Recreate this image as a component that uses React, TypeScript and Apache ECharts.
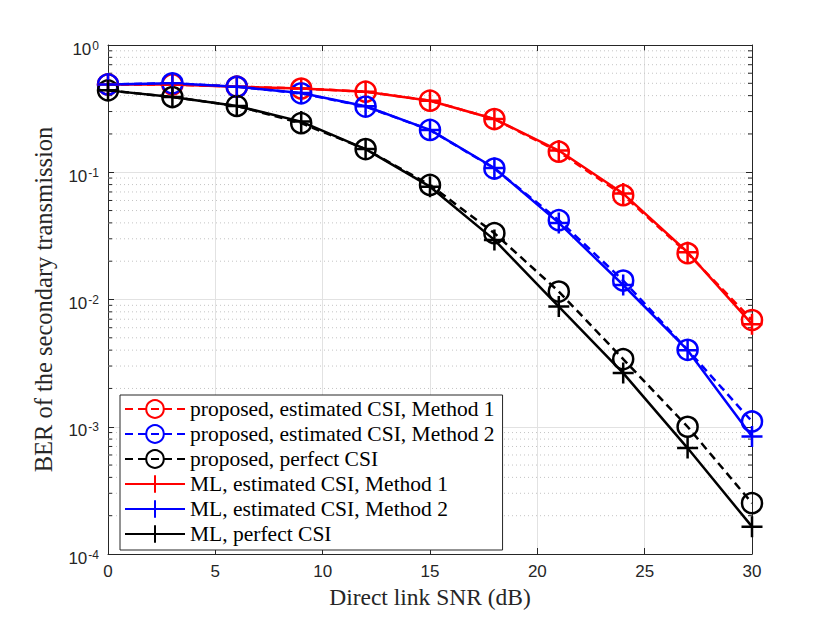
import React, { useEffect, useRef } from "react";
import * as echarts from "echarts";

const snr = [0, 3, 6, 9, 12, 15, 18, 21, 24, 27, 30];
const propRed = [0.49, 0.49, 0.47, 0.455, 0.43, 0.365, 0.262, 0.145, 0.066, 0.0231, 0.0069];
const propBlue = [0.49, 0.5, 0.47, 0.417, 0.328, 0.215, 0.107, 0.042, 0.0141, 0.00402, 0.0011];
const propBlack = [0.44, 0.39, 0.332, 0.243, 0.152, 0.0795, 0.0332, 0.01154, 0.0034, 0.001, 0.000251];
const mlRed = [0.49, 0.49, 0.47, 0.455, 0.43, 0.365, 0.262, 0.148, 0.068, 0.0235, 0.0064];
const mlBlue = [0.49, 0.5, 0.47, 0.42, 0.33, 0.215, 0.108, 0.04, 0.013, 0.004, 0.00084];
const mlBlack = [0.44, 0.39, 0.332, 0.25, 0.152, 0.077, 0.0294, 0.0088, 0.00264, 0.00068, 0.000164];

const names = [
  "proposed, estimated CSI, Method 1",
  "proposed, estimated CSI, Method 2",
  "proposed, perfect CSI",
  "ML, estimated CSI, Method 1",
  "ML, estimated CSI, Method 2",
  "ML, perfect CSI",
];
const yTickExponents = [-4, -3, -2, -1, 0];
const minorValues: number[] = [];
[1e-4, 1e-3, 1e-2, 1e-1].forEach((d) => {
  for (let k = 2; k <= 9; k++) minorValues.push(d * k);
});

const AXIS = "#262626";
const GRID = "#e2e2e2";
const SERIF = "'Liberation Serif', 'Times New Roman', serif";
const SANS = "'Liberation Sans', Arial, sans-serif";
const BASE_FONT = "17px 'Liberation Sans', Arial, sans-serif";
const SUP_FONT = "12px 'Liberation Sans', Arial, sans-serif";
const PLUS = "path://M10,0 L10,20 M0,10 L20,10";

let measureCtx: CanvasRenderingContext2D | null = null;
function textWidth(t: string, font: string) {
  if (!measureCtx) measureCtx = document.createElement("canvas").getContext("2d");
  if (!measureCtx) return t.length * 6.7;
  measureCtx.font = font;
  return measureCtx.measureText(t).width;
}

function mkSeries(name: string, vals: number[], color: string, proposed: boolean) {
  return {
    name,
    type: "line",
    data: snr.map((x, i) => [x, vals[i]]),
    symbol: proposed ? "circle" : PLUS,
    symbolSize: proposed ? 20 : 21,
    showSymbol: true,
    z: proposed ? 3 : 4,
    lineStyle: { color, width: 2.5, type: proposed ? [8, 5] : "solid" },
    itemStyle: { color: "transparent", borderColor: color, borderWidth: 2.5 },
    emphasis: { disabled: true },
  };
}

export default function App() {
  const ref = useRef<HTMLDivElement>(null);
  useEffect(() => {
    if (!ref.current) return;
    const chart = echarts.init(ref.current, null, { renderer: "svg" });
    const xBase = {
      type: "value",
      min: 0,
      max: 30,
      interval: 5,
      axisLine: { show: true, onZero: false, lineStyle: { color: AXIS, width: 1 } },
      axisTick: { show: true, inside: true, length: 6, lineStyle: { color: AXIS } },
    };
    const yBase = {
      type: "log",
      logBase: 10,
      min: 0.0001,
      max: 1,
      axisLine: { show: true, onZero: false, lineStyle: { color: AXIS, width: 1 } },
      axisTick: { show: true, inside: true, length: 6, lineStyle: { color: AXIS } },
    };
    chart.setOption({
      animation: false,
      backgroundColor: "#fff",
      grid: { left: 108, right: 78, top: 45, bottom: 69 },
      xAxis: [
        {
          ...xBase,
          position: "bottom",
          name: "Direct link SNR (dB)",
          nameLocation: "middle",
          nameGap: 30,
          nameTextStyle: { fontFamily: SERIF, fontSize: 23.5, color: AXIS },
          axisLabel: { fontFamily: SANS, fontSize: 17, color: AXIS, margin: 9 },
          splitLine: { show: true, lineStyle: { color: GRID, width: 1 } },
        },
        {
          ...xBase,
          position: "top",
          axisLabel: { show: false },
          splitLine: { show: false },
        },
      ],
      yAxis: [
        {
          ...yBase,
          position: "left",
          name: "BER of the secondary transmission",
          nameLocation: "middle",
          nameGap: 52,
          nameTextStyle: { fontFamily: SERIF, fontSize: 24.5, color: AXIS },
          axisLabel: { show: false },
          splitLine: { show: true, lineStyle: { color: GRID, width: 1 } },
        },
        {
          ...yBase,
          position: "right",
          axisLabel: { show: false },
          splitLine: { show: false },
        },
      ],
      legend: {
        data: names,
        orient: "vertical",
        left: 120,
        top: 395,
        backgroundColor: "#fff",
        borderColor: AXIS,
        borderWidth: 1,
        borderRadius: 0,
        padding: [3, 8, 5, 4],
        itemWidth: 60,
        itemHeight: 22,
        itemGap: 3,
        textStyle: { fontFamily: SERIF, fontSize: 21.5, color: "#000" },
        selectedMode: false,
      },
      series: [
        {
          type: "custom",
          name: "minor",
          silent: true,
          z: 1,
          xAxisIndex: 0,
          yAxisIndex: 0,
          data: minorValues.map((v) => [0, v]),
          renderItem: (params: any, api: any) => {
            const v = api.value(1);
            const a = api.coord([0, v]);
            const b = api.coord([30, v]);
            return {
              type: "group",
              children: [
                {
                  type: "line",
                  shape: { x1: a[0], y1: a[1], x2: b[0], y2: b[1] },
                  style: { stroke: "#c4c4c4", lineWidth: 1, lineDash: [1, 3] },
                },
                {
                  type: "line",
                  shape: { x1: a[0], y1: a[1], x2: a[0] + 4, y2: a[1] },
                  style: { stroke: AXIS, lineWidth: 1 },
                },
                {
                  type: "line",
                  shape: { x1: b[0] - 4, y1: b[1], x2: b[0], y2: b[1] },
                  style: { stroke: AXIS, lineWidth: 1 },
                },
              ],
            };
          },
        },
        {
          type: "custom",
          name: "ylabels",
          silent: true,
          clip: false,
          z: 5,
          xAxisIndex: 0,
          yAxisIndex: 0,
          data: yTickExponents.map((e) => [0, Math.pow(10, e)]),
          renderItem: (params: any, api: any) => {
            const v = api.value(1);
            const p = api.coord([0, v]);
            const exp = String(Math.round(Math.log10(v)));
            const supW = textWidth(exp, SUP_FONT);
            const xr = p[0] - 9;
            const xs = xr - supW;
            return {
              type: "group",
              children: [
                {
                  type: "text",
                  x: xs - 1,
                  y: p[1] + 4,
                  style: {
                    text: "10",
                    font: BASE_FONT,
                    fill: AXIS,
                    align: "right",
                    verticalAlign: "middle",
                  },
                },
                {
                  type: "text",
                  x: xs,
                  y: p[1] + 0.5,
                  style: {
                    text: exp,
                    font: SUP_FONT,
                    fill: AXIS,
                    align: "left",
                    verticalAlign: "middle",
                  },
                },
              ],
            };
          },
        },
        mkSeries(names[0], propRed, "#ff0000", true),
        mkSeries(names[1], propBlue, "#0000ff", true),
        mkSeries(names[2], propBlack, "#000000", true),
        mkSeries(names[3], mlRed, "#ff0000", false),
        mkSeries(names[4], mlBlue, "#0000ff", false),
        mkSeries(names[5], mlBlack, "#000000", false),
      ],
    });
    return () => chart.dispose();
  }, []);
  return (
    <div
      ref={ref}
      style={{ position: "fixed", left: 0, top: 0, width: 830, height: 623, background: "#fff" }}
    />
  );
}
